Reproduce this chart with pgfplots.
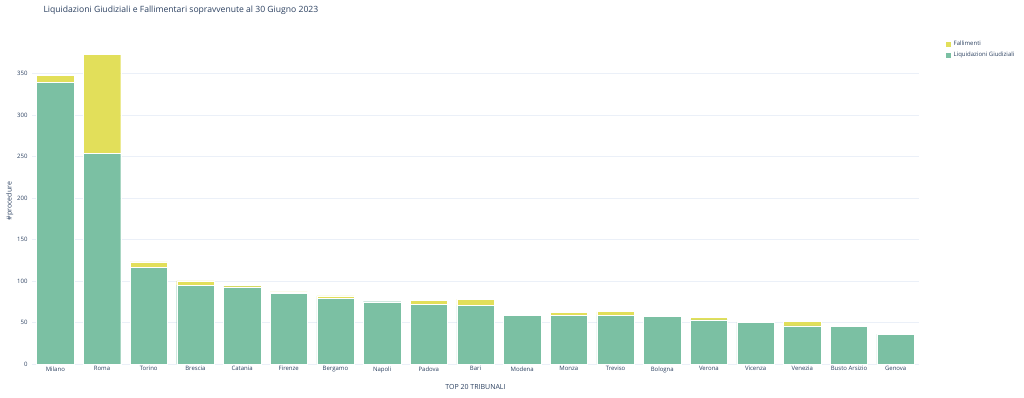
\documentclass[border=0pt]{standalone}
\usepackage{pgfplots}
\pgfplotsset{compat=1.18}
\usepackage{pgfplotstable}
\usepackage{fontspec}
\setmainfont{Open Sans}
\definecolor{txt}{HTML}{2A3F5F}
\definecolor{gridc}{HTML}{EBF0F8}
\definecolor{lgreen}{HTML}{7BC0A3}
\definecolor{fyellow}{HTML}{E2DF5A}
\pgfplotstableread{
x lg f
0 339 9
1 254 119
2 116 7
3 95 5
4 93 2
5 85 2
6 79 3
7 75 0
8 72 5
9 71 7
10 59 0
11 59 3
12 59 4
13 57 2
14 53 3
15 50 1
16 46 5
17 45 0
18 36 0
}\datatable
\begin{document}
\begin{tikzpicture}[x=1pt,y=1pt]
\path[use as bounding box] (0,0) rectangle (1024,398);
\node[anchor=west,text=txt,font=\fontsize{8.6}{10}\selectfont] at (40,388) {Liquidazioni Giudiziali e Fallimentari sopravvenute al 30 Giugno 2023};
\begin{axis}[
  at={(32pt,34pt)}, anchor=south west,
  scale only axis, width=887pt, height=326pt,
  ybar stacked, bar width=0.8,
  xmin=-0.5, xmax=18.5, ymin=0, ymax=392.6,
  xtick=data,
  xticklabels={Milano,Roma,Torino,Brescia,Catania,Firenze,Bergamo,Napoli,Padova,Bari,Modena,Monza,Treviso,Bologna,Verona,Vicenza,Venezia,Busto Arsizio,Genova},
  ytick={0,50,...,350},
  axis line style={draw=none},
  major tick length=0pt,
  xmajorgrids=false,
  ymajorgrids=true, major grid style={draw=gridc, line width=0.6pt},
  tick label style={text=txt, font=\fontsize{6}{7}\selectfont},
  /pgf/number format/assume math mode=true,
  yticklabel style={xshift=-1pt},
  xticklabel style={yshift=1pt},
  xlabel={TOP 20 TRIBUNALI},
  ylabel={\#procedure},
  label style={text=txt, font=\fontsize{7}{8}\selectfont},
  xlabel style={at={(axis description cs:0.5,-0.07)}, anchor=center},
  ylabel style={at={(axis description cs:-0.025,0.5)}, anchor=center},
  legend style={at={(axis description cs:1.026,1.003)}, anchor=north west, draw=none, fill=none, font=\fontsize{6}{7}\selectfont, text=txt, row sep=1pt},
  legend cell align=left,
  reverse legend,
  legend image code/.code={\fill[#1] (0pt,-3pt) rectangle (6pt,3pt);},
  clip=false,
]
\addplot[fill=lgreen, draw=white, line width=0.4pt] table[x=x,y=lg] {\datatable};
\addlegendentry{Liquidazioni Giudiziali}
\addplot[fill=fyellow, draw=white, line width=0.4pt] table[x=x,y=f] {\datatable};
\addlegendentry{Fallimenti}
\draw[gridc, line width=0.6pt] (axis cs:-0.5,0) -- (axis cs:18.5,0);
\end{axis}
\end{tikzpicture}
\end{document}
